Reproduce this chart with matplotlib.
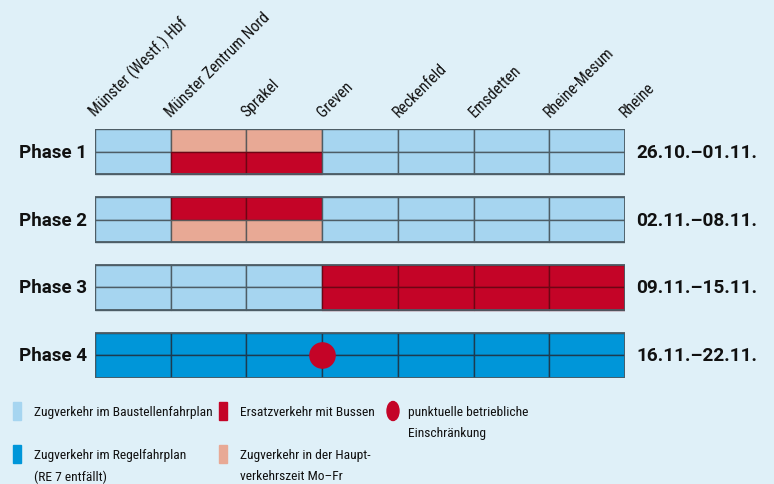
import matplotlib
matplotlib.use('Agg')
import matplotlib.pyplot as plt
from matplotlib.patches import Rectangle, Ellipse

# data
stations = ['Münster (Westf.) Hbf', 'Münster Zentrum Nord', 'Sprakel', 'Greven',
            'Reckenfeld', 'Emsdetten', 'Rheine-Mesum', 'Rheine']
phases = ['Phase 1', 'Phase 2', 'Phase 3', 'Phase 4']
dates = ['26.10.–01.11.', '02.11.–08.11.', '09.11.–15.11.', '16.11.–22.11.']
# state per segment: B = Baustellenfahrplan, E = Ersatzverkehr, H = Hauptverkehrszeit, R = Regelfahrplan
phase_upper = ['BHHBBBB', 'BEEBBBB', 'BBBEEEE', 'RRRRRRR']
phase_lower = ['BEEBBBB', 'BHHBBBB', 'BBBEEEE', 'RRRRRRR']
point_phase = 3      # Phase 4
point_station = 3    # Greven

colors = {'B': '#a6d5f0', 'E': '#c40427', 'H': '#e8a995', 'R': '#0096d9'}
edges = {'B': '#4d5d66', 'E': '#6e0514', 'H': '#5a5a5a', 'R': '#1c3b50'}
bg = '#dff0f8'
legend = [('B', 'Zugverkehr im Baustellenfahrplan'),
          ('R', 'Zugverkehr im Regelfahrplan\n(RE 7 entfällt)'),
          ('E', 'Ersatzverkehr mit Bussen'),
          ('H', 'Zugverkehr in der Haupt-\nverkehrszeit Mo–Fr')]
point_text = 'punktuelle betriebliche\nEinschränkung'

W, H = 774, 485
fam = ['Roboto Condensed', 'Roboto', 'DejaVu Sans']
fam_bold = ['Roboto', 'DejaVu Sans']


def fx(x):
    return x / W


def fy(y):
    return 1 - y / H


fig = plt.figure(figsize=(W / 100, H / 100), dpi=100)
fig.patch.set_facecolor(bg)
ax = fig.add_axes([fx(95), fy(379), 530 / W, 249 / H])
ax.set_facecolor(bg)
ax.set_xlim(0, 7)
ax.set_ylim(11, 0)
ax.axis('off')

for p in range(len(phases)):
    for r, rows in enumerate([phase_upper, phase_lower]):
        for s, st in enumerate(rows[p]):
            ax.barh(3 * p + r + 0.5, 1, left=s, height=1, color=colors[st],
                    edgecolor=edges[st], linewidth=1.0)
    ax.add_patch(Rectangle((0, 3 * p), 7, 2, fill=False, edgecolor='#4d5d66',
                           linewidth=1.3, zorder=3))
    ax.text(-0.11, 3 * p + 1, phases[p], ha='right', va='center', fontsize=13.5,
            fontweight='bold', family=fam_bold, color='#111111')
    ax.text(7.15, 3 * p + 1, dates[p], ha='left', va='center', fontsize=13.7,
            fontweight='bold', family=fam_bold, color='#111111')

ax.scatter([point_station], [3 * point_phase + 1], s=330, color=colors['E'],
           zorder=5, clip_on=False)

for i, name in enumerate(stations):
    ax.text(i + 0.01, -0.55, name, rotation=45, rotation_mode='anchor',
            ha='left', va='baseline', fontsize=11.3, family=fam, color='#111111')

# legend
pos = [(13, 403), (13, 446), (219, 403), (219, 446)]
for (st, label), (x, y) in zip(legend, pos):
    fig.patches.append(Rectangle((fx(x), fy(y + 18)), 8 / W, 18 / H,
                                 transform=fig.transFigure, color=colors[st]))
    fig.text(fx(x + 21), fy(y + 3), label, ha='left', va='top', fontsize=9.7,
             family=fam, color='#111111', linespacing=1.85)

fig.patches.append(Ellipse((fx(393), fy(412)), 12 / W, 19 / H,
                           transform=fig.transFigure, color=colors['E']))
fig.text(fx(408), fy(406), point_text, ha='left', va='top', fontsize=9.7,
         family=fam, color='#111111', linespacing=1.85)

fig.savefig('out.png', dpi=100, facecolor=bg)
